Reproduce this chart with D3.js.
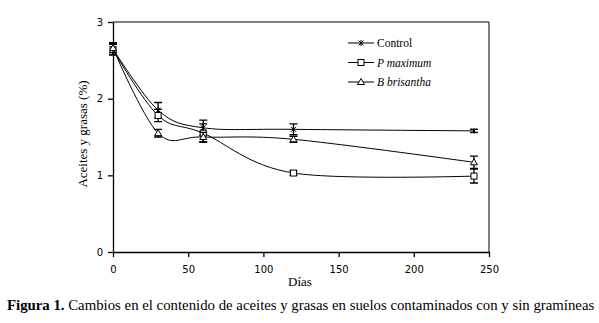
<!DOCTYPE html>
<html><head><meta charset="utf-8">
<script src="https://cdn.jsdelivr.net/npm/d3@7"></script>
<style>body{margin:0;background:#fff}svg{display:block}</style>
</head><body>
<script>
const days = [0, 30, 60, 120, 240];
const control = [2.65, 1.85, 1.62, 1.60, 1.58];
const controlErr = [0.08, 0.10, 0.10, 0.07, 0.02];
const pmaximum = [2.64, 1.78, 1.55, 1.03, 0.99];
const pmaximumErr = [0.07, 0.08, 0.12, 0.03, 0.09];
const bbrisantha = [2.66, 1.55, 1.50, 1.47, 1.17];
const bbrisanthaErr = [0.06, 0.05, 0.06, 0.04, 0.08];
const seriesNames = ["Control", "P maximum", "B brisantha"];
const xTicks = [0, 50, 100, 150, 200, 250];
const yTicks = [0, 1, 2, 3];

const W = 599, H = 323;
const svg = d3.select("body").append("svg").attr("width", W).attr("height", H);
const x = d3.scaleLinear().domain([0, 250]).range([113, 489]);
const y = d3.scaleLinear().domain([0, 3]).range([252, 22]);

// frame (top and right)
svg.append("path").attr("d", `M${x(0)},${y(3)}H${x(250)}V${y(0)}`).attr("fill","none").attr("stroke","#000").attr("stroke-width",1);

const xAxis = svg.append("g").attr("transform", `translate(0,${y(0)})`)
  .call(d3.axisBottom(x).tickValues(xTicks).tickFormat(d3.format("d")).tickSize(5).tickSizeOuter(0));
const yAxis = svg.append("g").attr("transform", `translate(${x(0)},0)`)
  .call(d3.axisLeft(y).tickValues(yTicks).tickFormat(d3.format("d")).tickSize(5).tickSizeOuter(0));
[xAxis, yAxis].forEach(g => {
  g.selectAll("path,line").attr("stroke","#000").attr("stroke-width",1.3);
  g.selectAll("text").attr("font-family","'DejaVu Sans', sans-serif").attr("font-size",10).attr("fill","#000");
});
xAxis.selectAll("text").attr("dy", "1.3em");
yAxis.selectAll("text").attr("dx", "-0.2em");

const series = [
  {name: seriesNames[0], v: control, e: controlErr, m: "x"},
  {name: seriesNames[1], v: pmaximum, e: pmaximumErr, m: "sq"},
  {name: seriesNames[2], v: bbrisantha, e: bbrisanthaErr, m: "tri"}
];
const line = d3.line().x(d => x(d[0])).y(d => y(d[1])).curve(d3.curveCardinal.tension(0));

function marker(g, type, cx, cy) {
  if (type === "x") {
    g.append("path").attr("d", `M${cx-2.5},${cy-2.5}L${cx+2.5},${cy+2.5}M${cx-2.5},${cy+2.5}L${cx+2.5},${cy-2.5}M${cx},${cy-3}V${cy+3}`)
      .attr("stroke","#000").attr("fill","none");
  } else if (type === "sq") {
    g.append("rect").attr("x", cx-3).attr("y", cy-3).attr("width",6).attr("height",6)
      .attr("fill","#fff").attr("stroke","#000");
  } else {
    g.append("path").attr("d", `M${cx},${cy-3.5}L${cx+3.5},${cy+2.5}L${cx-3.5},${cy+2.5}Z`)
      .attr("fill","#fff").attr("stroke","#000");
  }
}

series.forEach(s => {
  const pts = days.map((d, i) => [d, s.v[i]]);
  svg.append("path").attr("d", line(pts)).attr("fill","none").attr("stroke","#000").attr("stroke-width",1);
  const g = svg.append("g");
  days.forEach((d, i) => {
    const cx = x(d), y1 = y(s.v[i] + s.e[i]), y2 = y(s.v[i] - s.e[i]);
    g.append("path").attr("d", `M${cx},${y1}V${y2}M${cx-4},${y1}H${cx+4}M${cx-4},${y2}H${cx+4}`)
      .attr("stroke","#000").attr("stroke-width",1.3).attr("fill","none");
  });
  days.forEach((d, i) => marker(g, s.m, x(d), y(s.v[i])));
});

// legend
const lg = svg.append("g");
series.forEach((s, i) => {
  const ly = 43 + i * 19.5;
  lg.append("line").attr("x1", 348).attr("x2", 374).attr("y1", ly).attr("y2", ly).attr("stroke","#000");
  marker(lg, s.m, 361, ly);
  lg.append("text").attr("x", 377).attr("y", ly + 4).text(s.name)
    .attr("font-family","'Liberation Serif', serif").attr("font-size",11.5)
    .attr("font-style", i === 0 ? "normal" : "italic");
});

// axis titles
svg.append("text").attr("transform", "translate(87,134) rotate(-90)").attr("text-anchor","middle")
  .attr("font-family","'Liberation Serif', serif").attr("font-size",13).text("Aceites y grasas (%)");
svg.append("text").attr("x", 300).attr("y", 286).attr("text-anchor","middle")
  .attr("font-family","'Liberation Serif', serif").attr("font-size",13).text("Días");

// caption
const cap = svg.append("text").attr("x", 7).attr("y", 310)
  .attr("font-family","'Liberation Serif', serif").attr("font-size",14.8);
cap.append("tspan").attr("font-weight","bold").text("Figura 1.");
cap.append("tspan").text(" Cambios en el contenido de aceites y grasas en suelos contaminados con y sin gramíneas");
</script>
</body></html>
